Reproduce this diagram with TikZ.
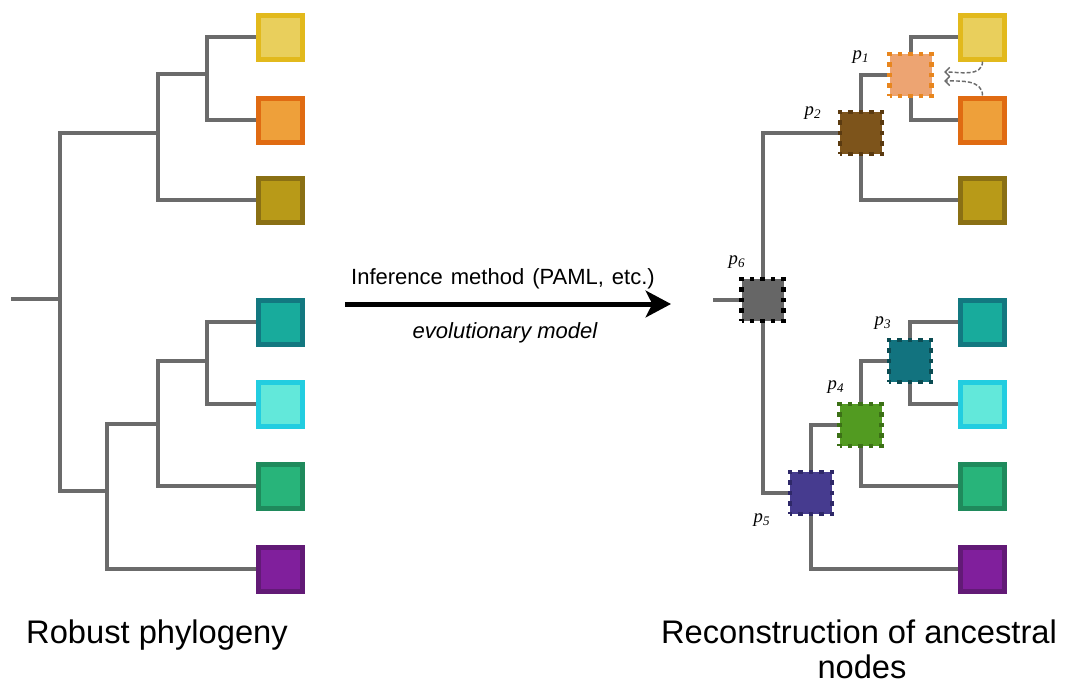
\documentclass[tikz,border=0pt]{standalone}
\usepackage{fontspec}
\setmainfont{Liberation Sans}
\newfontfamily\serifit{Liberation Serif}
\usetikzlibrary{arrows.meta}

% branch colour
\definecolor{treegray}{HTML}{6B6B6B}
% leaf colours: border / fill
\definecolor{yelB}{HTML}{E2B91C}\definecolor{yelF}{HTML}{E9CF5C}
\definecolor{oraB}{HTML}{E06B12}\definecolor{oraF}{HTML}{EEA03A}
\definecolor{oliB}{HTML}{8A7014}\definecolor{oliF}{HTML}{B89A18}
\definecolor{teaB}{HTML}{137880}\definecolor{teaF}{HTML}{18AB9C}
\definecolor{cyaB}{HTML}{22CDE0}\definecolor{cyaF}{HTML}{62E8DA}
\definecolor{greB}{HTML}{1F8A5C}\definecolor{greF}{HTML}{28B47A}
\definecolor{purB}{HTML}{621A76}\definecolor{purF}{HTML}{801F9C}
% ancestral node colours: border / fill
\definecolor{aOneB}{HTML}{E8861E}\definecolor{aOneF}{HTML}{EDA472}
\definecolor{aTwoB}{HTML}{5A3A10}\definecolor{aTwoF}{HTML}{7D541B}
\definecolor{aThrB}{HTML}{0B4B52}\definecolor{aThrF}{HTML}{12737F}
\definecolor{aFouB}{HTML}{3C7016}\definecolor{aFouF}{HTML}{529B21}
\definecolor{aFivB}{HTML}{2E2868}\definecolor{aFivF}{HTML}{463B8F}
\definecolor{aSixB}{HTML}{000000}\definecolor{aSixF}{HTML}{666666}

% arrow label font
\newcommand\methodfont{\fontsize{16.5}{16.5}\selectfont}

\begin{document}
\begin{tikzpicture}[x=0.75pt,y=-0.75pt,
  branch/.style={draw=treegray,line width=3pt},
  leaf/.style={rectangle,minimum size=33pt,inner sep=0pt,line width=3.75pt},
  anc/.style={rectangle,minimum size=31.5pt,inner sep=0pt,line width=3.4pt,
    dash pattern=on 3.5pt off 4.375pt,dash phase=1.75pt},
  plabel/.style={font=\serifit\itshape\fontsize{14}{14}\selectfont,inner sep=0pt},
  caption/.style={font=\fontsize{24.5}{24.5}\selectfont,inner sep=0pt,anchor=base},
  method/.style={font=\methodfont,anchor=base,inner sep=0pt},
  hint/.style={draw=treegray,line width=1.1pt,dash pattern=on 3pt off 1.5pt,
    -{Straight Barb[length=3.5pt,width=7pt]}}
]
\path (0,0) rectangle (1067,686);

% ---------- left: robust phylogeny ----------
\node[leaf,draw=yelB,fill=yelF] (L1) at (280.5,37) {};
\node[leaf,draw=oraB,fill=oraF] (L2) at (280.5,120) {};
\node[leaf,draw=oliB,fill=oliF] (L3) at (280.5,200) {};
\node[leaf,draw=teaB,fill=teaF] (L4) at (280.5,322) {};
\node[leaf,draw=cyaB,fill=cyaF] (L5) at (280.5,404) {};
\node[leaf,draw=greB,fill=greF] (L6) at (280.5,486) {};
\node[leaf,draw=purB,fill=purF] (L7) at (280.5,569) {};

\coordinate (s0) at (11,299);
\coordinate (a) at (60,299);
\coordinate (b) at (158,133);
\coordinate (d) at (207,74);
\coordinate (c) at (107,491);
\coordinate (e) at (158,424);
\coordinate (f) at (207,361);

\draw[branch] (s0) -- (a);
\draw[branch] (a) |- (b);
\draw[branch] (b) |- (d);
\draw[branch] (d) |- (L1.west);
\draw[branch] (d) |- (L2.west);
\draw[branch] (b) |- (L3.west);
\draw[branch] (a) |- (c);
\draw[branch] (c) |- (e);
\draw[branch] (e) |- (f);
\draw[branch] (f) |- (L4.west);
\draw[branch] (f) |- (L5.west);
\draw[branch] (e) |- (L6.west);
\draw[branch] (c) |- (L7.west);

\node[caption] (capL) at (157,643) {Robust phylogeny};

% ---------- middle: inference arrow ----------
\coordinate (arrS) at (345,304);
\coordinate (arrE) at (671,304);
\draw[line width=3.75pt,-{Stealth[length=19pt,width=20pt,inset=5pt]}] (arrS) -- (arrE);
\node[method] (inf) at (503,284) {\spaceskip=6pt\relax Inference method (PAML, etc.)};
\node[method,font=\methodfont\itshape] (evo) at (505,338) {evolutionary model};

% ---------- right: reconstruction of ancestral nodes ----------
\node[leaf,draw=yelB,fill=yelF] (R1) at (982.5,37) {};
\node[leaf,draw=oraB,fill=oraF] (R2) at (982.5,120) {};
\node[leaf,draw=oliB,fill=oliF] (R3) at (982.5,200) {};
\node[leaf,draw=teaB,fill=teaF] (R4) at (982.5,322) {};
\node[leaf,draw=cyaB,fill=cyaF] (R5) at (982.5,404) {};
\node[leaf,draw=greB,fill=greF] (R6) at (982.5,486) {};
\node[leaf,draw=purB,fill=purF] (R7) at (982.5,569) {};

\node[anc,draw=aOneB,fill=aOneF] (p1) at (910.5,75) {};
\node[anc,draw=aTwoB,fill=aTwoF] (p2) at (861,133) {};
\node[anc,draw=aThrB,fill=aThrF] (p3) at (910,361) {};
\node[anc,draw=aFouB,fill=aFouF] (p4) at (860.5,425) {};
\node[anc,draw=aFivB,fill=aFivF] (p5) at (811,493) {};
\node[anc,draw=aSixB,fill=aSixF] (p6) at (762.5,300) {};

\coordinate (r0) at (713,300);
\draw[branch] (r0) -- (p6);
\draw[branch] (p6) |- (p2);
\draw[branch] (p2) |- (p1);
\draw[branch] (p1) |- (R1.west);
\draw[branch] (p1) |- (R2.west);
\draw[branch] (p2) |- (R3.west);
\draw[branch] (p6) |- (p5);
\draw[branch] (p5) |- (p4);
\draw[branch] (p4) |- (p3);
\draw[branch] (p3) |- (R4.west);
\draw[branch] (p3) |- (R5.west);
\draw[branch] (p4) |- (R6.west);
\draw[branch] (p5) |- (R7.west);

% values passed from the two tips up to their parent
\coordinate (h1) at (944,72);
\coordinate (h2) at (944,81);
\draw[hint] (R1.south) to[out=-90,in=0] (h1);
\draw[hint] (R2.north) to[out=90,in=0] (h2);

\node[plabel] (lp1) at (861,57) {p\textsubscript{1}};
\node[plabel] (lp2) at (813,113) {p\textsubscript{2}};
\node[plabel] (lp3) at (883,323) {p\textsubscript{3}};
\node[plabel] (lp4) at (836,387) {p\textsubscript{4}};
\node[plabel] (lp5) at (762,520) {p\textsubscript{5}};
\node[plabel] (lp6) at (737,262) {p\textsubscript{6}};

\node[caption] (capR1) at (859,643) {Reconstruction of ancestral};
\node[caption] (capR2) at (862,678) {nodes};
\end{tikzpicture}
\end{document}
